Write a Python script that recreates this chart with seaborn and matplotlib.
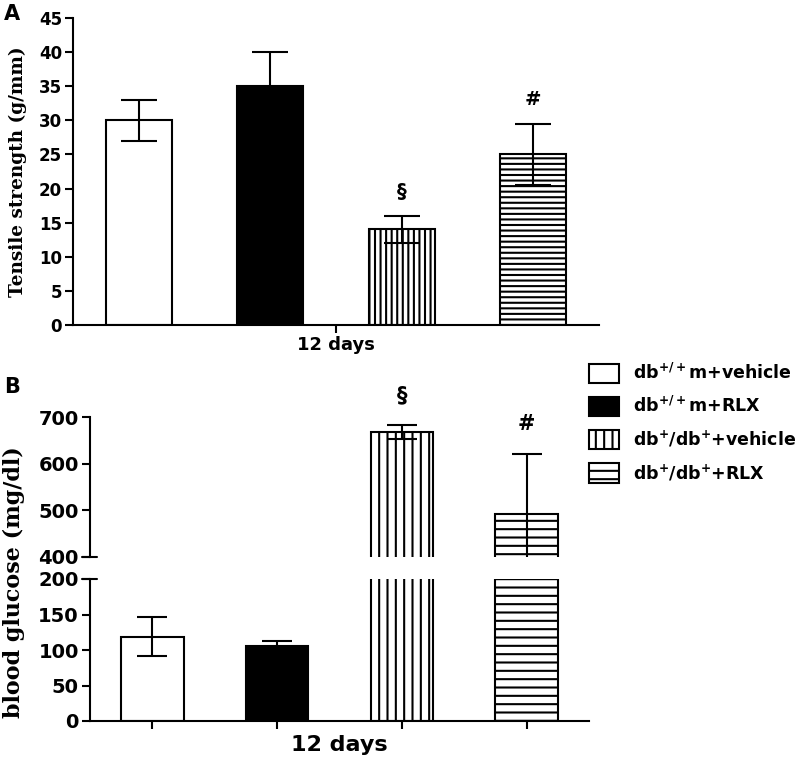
import numpy as np
import pandas as pd
import matplotlib
matplotlib.use("Agg")
import matplotlib.pyplot as plt
from matplotlib.patches import Patch
import seaborn as sns

# Data
GROUPS = ["db+/+m+vehicle", "db+/+m+RLX", "db+/db+vehicle", "db+/db+RLX"]
LEGEND_LABELS = [
    r"db$^{+/+}$m+vehicle",
    r"db$^{+/+}$m+RLX",
    r"db$^{+}$/db$^{+}$+vehicle",
    r"db$^{+}$/db$^{+}$+RLX",
]
tensile_mean = [30, 35, 14, 25]
tensile_err = [3, 5, 2, 4.5]
glucose_mean = [119, 106, 667, 492]
glucose_err = [28, 6, 15, 128]
tensile_marks = ["", "", "§", "#"]
glucose_marks = ["", "", "§", "#"]

FACE = ["white", "black", "white", "white"]
HATCH_A = [None, None, "|||", "---"]
HATCH_B = [None, None, "||", "--"]

sns.set_style("white")
plt.rcParams["font.family"] = ["DejaVu Sans"]
plt.rcParams["font.weight"] = "bold"
for key in ["text.color", "axes.labelcolor", "xtick.color", "ytick.color",
            "axes.edgecolor"]:
    plt.rcParams[key] = "black"
plt.rcParams["mathtext.fontset"] = "custom"
plt.rcParams["mathtext.rm"] = "DejaVu Sans:bold"
plt.rcParams["mathtext.it"] = "DejaVu Sans:bold"
plt.rcParams["mathtext.bf"] = "DejaVu Sans:bold"
plt.rcParams["mathtext.default"] = "rm"
plt.rcParams["hatch.linewidth"] = 1.5
plt.rcParams["axes.linewidth"] = 1.5

W, H = 801, 759
fig = plt.figure(figsize=(W / 100, H / 100), dpi=100)


def px_axes(x0, y0, x1, y1):
    return fig.add_axes([x0 / W, 1 - y1 / H, (x1 - x0) / W, (y1 - y0) / H])


def draw_bars(ax, means, errs, hatches, capsize):
    df = pd.DataFrame({"group": GROUPS, "value": means})
    sns.barplot(data=df, x="group", y="value", hue="group", order=GROUPS,
                hue_order=GROUPS, palette=dict(zip(GROUPS, FACE)),
                width=0.5, edgecolor="black", linewidth=1.5,
                errorbar=None, legend=False, saturation=1, ax=ax)
    for patch, h in zip(ax.patches, hatches):
        if h:
            patch.set_hatch(h)
    ax.errorbar(np.arange(len(means)), means, yerr=errs, fmt="none",
                ecolor="black", elinewidth=1.5, capsize=capsize,
                capthick=1.5, zorder=5)
    ax.set_xlim(-0.5, 3.5)
    ax.set_xlabel("")
    ax.set_ylabel("")


# ── Panel A: tensile strength ──
axA = px_axes(73, 18, 599, 325)
draw_bars(axA, tensile_mean, tensile_err, HATCH_A, 13)
axA.set_ylim(0, 45)
axA.set_yticks(np.arange(0, 46, 5))
axA.set_xticks([1.5])
axA.set_xticklabels(["12 days"])
for i, m in enumerate(tensile_marks):
    if m:
        axA.text(i, tensile_mean[i] + tensile_err[i] + 3.6, m, ha="center",
                 va="center", fontsize=14, fontweight="bold")
sns.despine(ax=axA)
axA.tick_params(axis="both", direction="out", length=6, width=1.5,
                labelsize=12, left=True, bottom=True, pad=2)
axA.tick_params(axis="x", labelsize=13)
fig.text(18 / W, 1 - 172 / H, "Tensile strength (g/mm)", rotation=90,
         ha="center", va="center", fontsize=13.3, fontweight="bold",
         family="DejaVu Serif")
fig.text(12 / W, 1 - 14 / H, "A", ha="center", va="center", fontsize=15,
         fontweight="bold")

# ── Panel B: blood glucose, broken axis ──
axB_top = px_axes(90, 417, 589, 557)
axB_bot = px_axes(90, 579, 589, 721)
draw_bars(axB_top, glucose_mean, glucose_err, HATCH_B, 10.5)
draw_bars(axB_bot, glucose_mean, glucose_err, HATCH_B, 10.5)

axB_top.set_ylim(400, 700)
axB_top.set_yticks([400, 500, 600, 700])
axB_top.set_xticks([])
sns.despine(ax=axB_top, bottom=True)
axB_top.tick_params(axis="y", direction="out", length=6, width=1.5,
                    labelsize=14, left=True, pad=2)

axB_bot.set_ylim(0, 200)
axB_bot.set_yticks([0, 50, 100, 150, 200])
axB_bot.set_xticks(np.arange(len(GROUPS)))
axB_bot.set_xticklabels([])
sns.despine(ax=axB_bot)
axB_bot.tick_params(axis="both", direction="out", length=6, width=1.5,
                    labelsize=14, left=True, bottom=True, pad=2)
fig.text(339 / W, 1 - 745 / H, "12 days", ha="center", va="center",
         fontsize=16, fontweight="bold")

# break marks crossing the y axis
for ax, yv in [(axB_top, 400), (axB_bot, 200)]:
    ax.plot([-0.016, 0.014], [yv, yv], color="black", lw=1.5,
            transform=ax.get_yaxis_transform(), clip_on=False)

for i, m in enumerate(glucose_marks):
    if m:
        axB_top.text(i, glucose_mean[i] + glucose_err[i] + 65, m,
                     ha="center", va="center", fontsize=15,
                     fontweight="bold", clip_on=False)

fig.text(14 / W, 1 - 582 / H, "blood glucose (mg/dl)", rotation=90,
         ha="center", va="center", fontsize=16, fontweight="bold",
         family="DejaVu Serif")
fig.text(12 / W, 1 - 387 / H, "B", ha="center", va="center", fontsize=15,
         fontweight="bold")

# legend
handles = [Patch(facecolor=f, edgecolor="black", hatch=h, linewidth=1.5)
           for f, h in zip(FACE, HATCH_B)]
fig.legend(handles, LEGEND_LABELS, loc="upper left",
           bbox_to_anchor=(582 / W, 1 - 356 / H), frameon=False,
           fontsize=12.5, handlelength=1.75, handleheight=1.35,
           handletextpad=0.8, labelspacing=0.75, borderaxespad=0)

fig.savefig("out.png", dpi=100)
